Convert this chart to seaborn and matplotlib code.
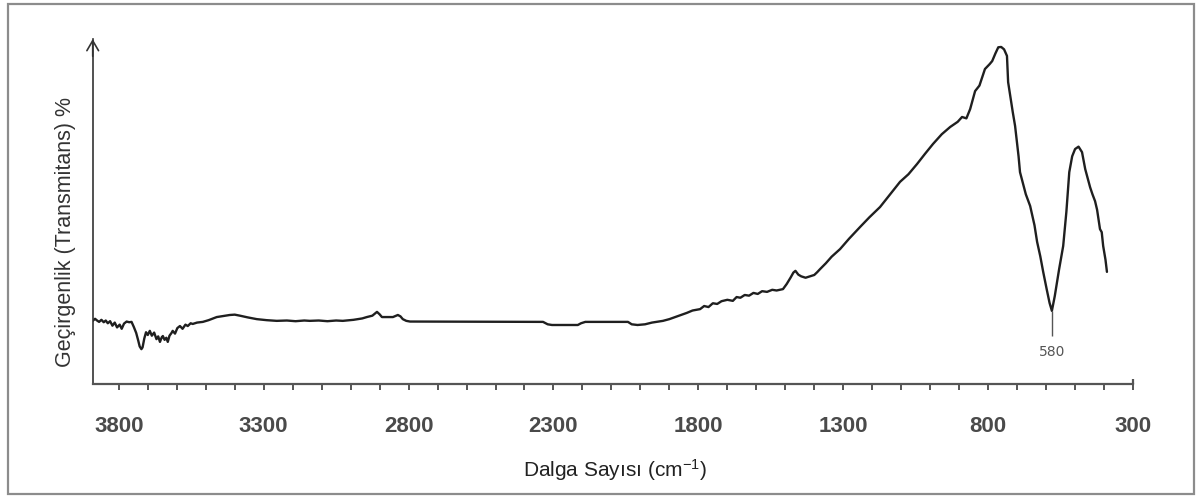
import matplotlib
matplotlib.use("Agg")
import matplotlib.pyplot as plt
import seaborn as sns
import pandas as pd
from matplotlib.patches import Rectangle
from matplotlib.ticker import MultipleLocator

# FTIR spectrum: wavenumber (cm-1) and transmittance (%)
wavenumber = [
    3890, 3882, 3875, 3868, 3860, 3852, 3845, 3838, 3830, 3822, 3814, 3806,
    3797, 3790, 3782, 3773, 3764, 3756, 3748, 3740, 3733, 3728, 3722, 3718,
    3712, 3706, 3700, 3693, 3686, 3678, 3670, 3664, 3658, 3652, 3648, 3642,
    3636, 3631, 3625, 3618, 3614, 3606, 3598, 3589, 3580, 3570, 3562, 3552,
    3545, 3530, 3510, 3490, 3475, 3462, 3440, 3417, 3400, 3382, 3355, 3324,
    3290, 3255, 3220, 3190, 3160, 3141, 3110, 3080, 3050, 3027, 2990, 2960,
    2944, 2925, 2909, 2900, 2892, 2870, 2854, 2837, 2828, 2820, 2808, 2795,
    2336, 2320, 2305, 2216, 2205, 2190, 2043, 2030, 2010, 1984, 1960, 1922,
    1900, 1880, 1860, 1840, 1820, 1794, 1780, 1765, 1750, 1735, 1720, 1700,
    1681, 1668, 1655, 1640, 1625, 1610, 1595, 1580, 1563, 1545, 1530, 1508,
    1495, 1482, 1472, 1465, 1455, 1445, 1430, 1415, 1400, 1390, 1380, 1360,
    1340, 1311, 1280, 1242, 1210, 1173, 1140, 1104, 1075, 1045, 1018, 990,
    960, 931, 905, 890, 875, 862, 845, 830, 811, 795, 786, 775, 765, 755,
    745, 735, 731, 715, 707, 695, 690, 670, 655, 640, 631, 620, 610, 598,
    588, 580, 570, 555, 541, 530, 520, 510, 500, 488, 476, 465, 448, 440,
    431, 424, 414, 408, 403, 395, 390,
]
transmittance = [
    18.3, 18.9, 18.4, 18.0, 18.6, 17.9, 18.4, 17.6, 18.2, 16.9, 17.8, 16.4,
    17.2, 16.0, 17.5, 18.1, 17.9, 18.0, 16.5, 14.8, 12.6, 10.9, 10.1, 10.6,
    13.2, 15.0, 14.2, 15.4, 14.0, 14.9, 13.0, 13.8, 12.2, 13.5, 13.9, 12.8,
    13.4, 12.2, 14.0, 14.8, 15.4, 14.6, 16.2, 16.8, 16.0, 17.2, 16.8, 17.6,
    17.4, 17.8, 18.0, 18.5, 19.0, 19.4, 19.7, 20.0, 20.1, 19.8, 19.3, 18.8,
    18.5, 18.3, 18.4, 18.2, 18.4, 18.3, 18.4, 18.2, 18.4, 18.3, 18.6, 19.0,
    19.4, 19.8, 20.9, 20.2, 19.4, 19.4, 19.4, 20.0, 19.6, 18.8, 18.3, 18.1,
    18.0, 17.3, 17.1, 17.1, 17.6, 18.0, 18.0, 17.3, 17.1, 17.3, 17.8, 18.3,
    18.8, 19.4, 20.0, 20.6, 21.3, 21.7, 22.6, 22.3, 23.4, 23.2, 24.0, 24.4,
    24.1, 25.2, 25.0, 25.8, 25.6, 26.4, 26.1, 26.9, 26.7, 27.3, 27.1, 27.5,
    29.0, 30.8, 32.3, 32.8, 31.7, 31.2, 30.8, 31.2, 31.6, 32.4, 33.3, 35.0,
    36.9, 39.1, 42.1, 45.5, 48.3, 51.3, 54.8, 58.6, 60.8, 63.8, 66.7, 69.6,
    72.4, 74.5, 76.0, 77.4, 77.0, 79.7, 84.9, 86.5, 91.3, 92.7, 93.6, 95.8,
    97.6, 97.7, 97.0, 95.1, 87.5, 78.8, 74.8, 66.0, 61.4, 55.0, 51.6, 46.0,
    41.2, 37.0, 32.5, 27.5, 23.5, 21.2, 25.5, 33.3, 40.0, 49.9, 61.4, 66.0,
    68.1, 68.8, 67.2, 62.3, 57.0, 55.0, 53.0, 50.5, 44.9, 44.0, 40.0, 36.0,
    32.5,
]

major_ticks = [3800, 3300, 2800, 2300, 1800, 1300, 800, 300]
tick_labels = ["3800", "3300", "2800", "2300", "1800", "1300", "800", "300"]
peak_wavenumber = 580
peak_label = "580"
x_label = r"Dalga Sayısı (cm$^{\mathregular{-1}}$)"
y_label = "Geçirgenlik (Transmitans) %"

sns.set_theme(style="white")
plt.rcParams["font.family"] = ["Liberation Sans", "DejaVu Sans"]
plt.rcParams["mathtext.fontset"] = "custom"
plt.rcParams["mathtext.rm"] = "Liberation Sans"
plt.rcParams["mathtext.it"] = "Liberation Sans:italic"
plt.rcParams["mathtext.bf"] = "Liberation Sans:bold"

fig = plt.figure(figsize=(12.01, 5.02), dpi=100)
fig.patch.set_facecolor("white")

# outer frame around the whole figure
fig.patches.append(Rectangle((0.0067, 0.0139), 0.9875, 0.9761,
                             transform=fig.transFigure, fill=False,
                             edgecolor="#8c8c8c", linewidth=1.6, zorder=0))

ax = fig.add_axes([0.0772, 0.2331, 0.8662, 0.6872])
ax.set_facecolor("white")

df = pd.DataFrame({"wn": wavenumber, "T": transmittance})
sns.lineplot(data=df, x="wn", y="T", ax=ax, color="#1f1f1f", linewidth=1.7,
             estimator=None, sort=False)

ax.set_xlim(3890, 300)
ax.set_ylim(0, 100)

for side in ("top", "right"):
    ax.spines[side].set_visible(False)
ax.spines["left"].set_color("#333333")
ax.spines["left"].set_linewidth(1.2)
ax.spines["bottom"].set_color("#555555")
ax.spines["bottom"].set_linewidth(1.6)

# arrow head on the transmittance axis
ax.annotate("", xy=(0, 1.0), xycoords="axes fraction", xytext=(0, 0.95),
            arrowprops=dict(arrowstyle="->,head_width=0.35,head_length=0.6",
                            color="#333333", lw=1.2, shrinkA=0, shrinkB=0),
            annotation_clip=False)

# upturned end of the wavenumber axis
ax.plot([300, 300], [0, 1.4], color="#555555", lw=1.6, clip_on=False,
        solid_capstyle="butt")

ax.set_xticks(major_ticks)
ax.set_xticklabels(tick_labels)
ax.xaxis.set_minor_locator(MultipleLocator(100))
ax.set_yticks([])
ax.tick_params(axis="x", which="both", direction="out", length=4, width=1.4,
               color="#555555", bottom=True)
ax.tick_params(axis="x", which="major", pad=18, labelsize=16,
               labelcolor="#4a4a4a")
for lbl in ax.get_xticklabels():
    lbl.set_fontweight("bold")

# marked absorption band
i_peak = wavenumber.index(peak_wavenumber)
t_peak = transmittance[i_peak]
ax.vlines(peak_wavenumber, t_peak - 7.3, t_peak, color="#555555", lw=1.0)
ax.text(peak_wavenumber, t_peak - 11.6, peak_label, ha="center", va="center",
        fontsize=10, color="#555555", family=["DejaVu Sans"])

ax.set_xlabel(x_label, fontsize=15, color="#222222")
ax.xaxis.set_label_coords(0.502, -0.246)
ax.xaxis.label.set_va("center")
ax.set_ylabel(y_label, fontsize=15.5, color="#333333")
ax.yaxis.set_label_coords(-0.0266, 0.443)
ax.yaxis.label.set_va("center")

fig.savefig("out.png", dpi=100, facecolor="white")
